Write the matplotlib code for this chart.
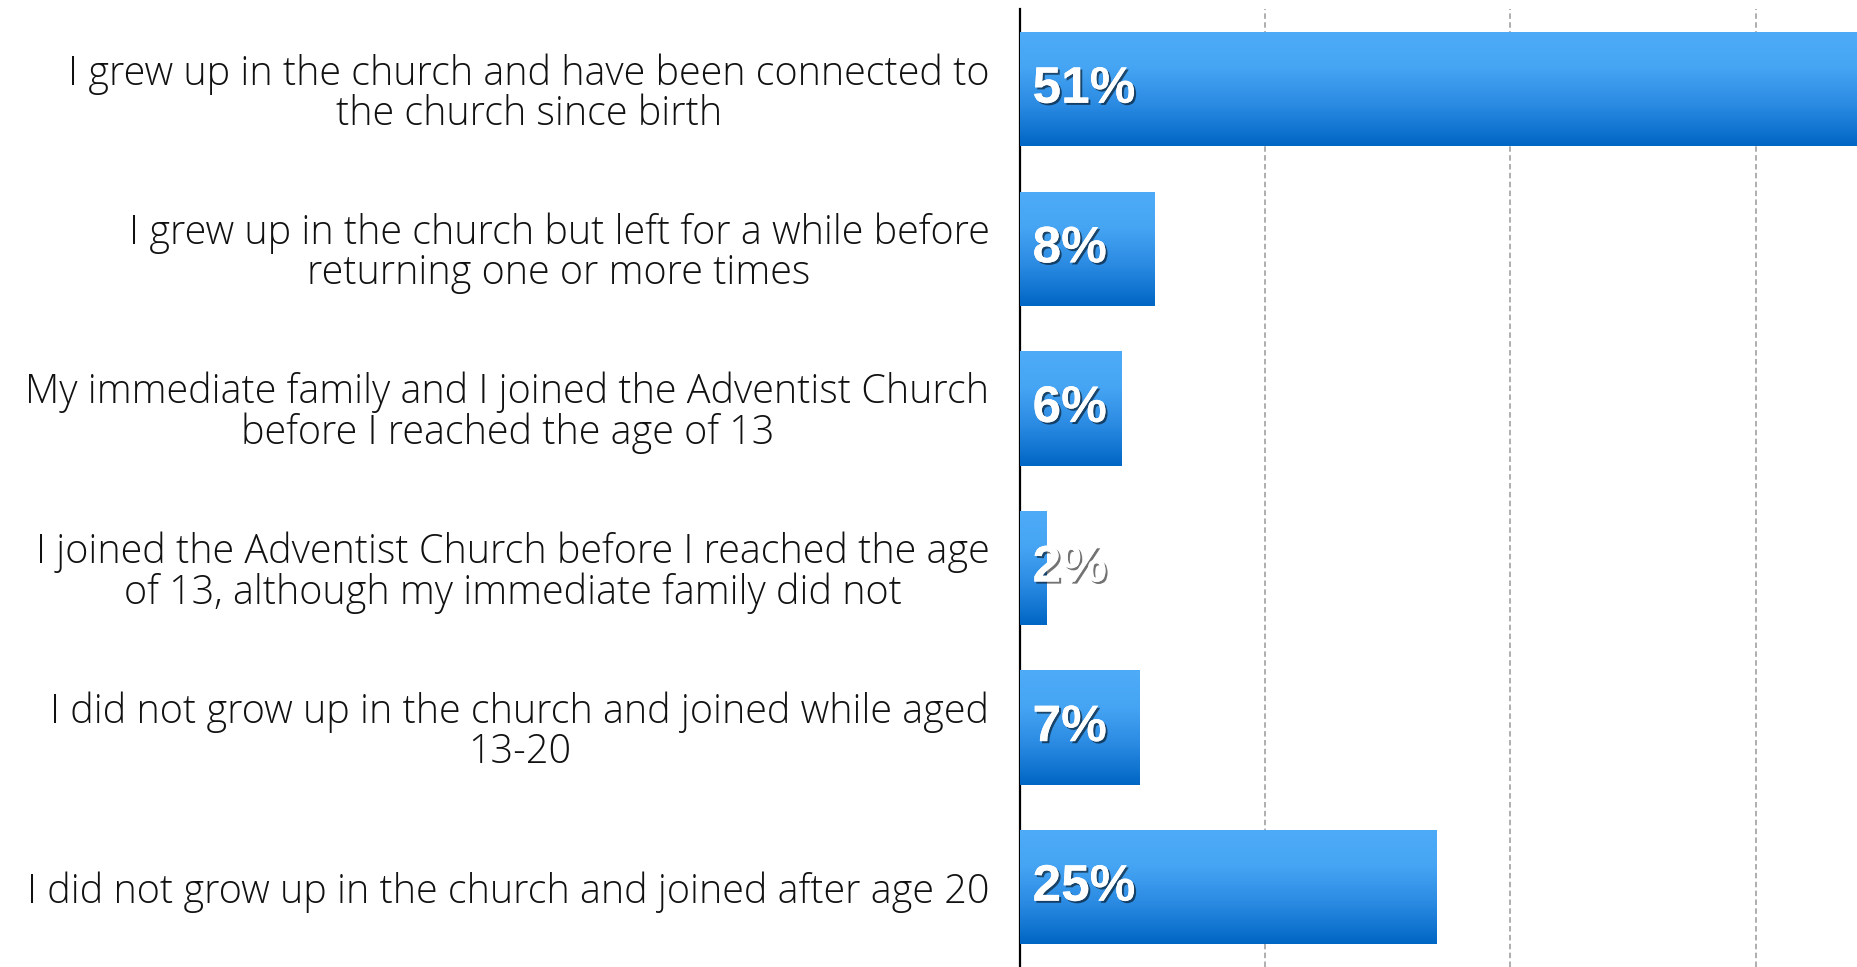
import matplotlib
matplotlib.use("Agg")
import matplotlib.pyplot as plt
import numpy as np
from matplotlib import patheffects
from matplotlib.colors import LinearSegmentedColormap

categories = [
    "I grew up in the church and have been connected to\nthe church since birth",
    "I grew up in the church but left for a while before\nreturning one or more times",
    "My immediate family and I joined the Adventist Church\nbefore I reached the age of 13",
    "I joined the Adventist Church before I reached the age\nof 13, although my immediate family did not",
    "I did not grow up in the church and joined while aged\n13-20",
    "I did not grow up in the church and joined after age 20",
]
values = [51.3, 8.2, 6.2, 1.6, 7.3, 25.5]
value_labels = ["51%", "8%", "6%", "2%", "7%", "25%"]
grid_ticks = [15, 30, 45]

fig = plt.figure(figsize=(18.57, 9.67), dpi=100)
ax = fig.add_axes([0.5493, 0.0, 0.4507, 0.9902])

y = np.arange(len(categories))
bars = ax.barh(y, values, height=0.717, color="none", zorder=3)

# vertical gradient fill for each bar (light at top, dark at bottom)
grad_cmap = LinearSegmentedColormap.from_list(
    "bar_grad", [(0.0, "#4dabf8"), (0.3, "#47a6f4"), (0.65, "#2a8ae2"), (1.0, "#0066c4")])
gradient = np.linspace(0, 1, 256).reshape(-1, 1)
for bar in bars:
    x0, y0 = bar.get_x(), bar.get_y()
    w, h = bar.get_width(), bar.get_height()
    # y axis is inverted, so y0 is the visual top of the bar
    im = ax.imshow(gradient, cmap=grad_cmap, aspect="auto", origin="lower",
                   extent=[x0, x0 + w, y0, y0 + h], zorder=3)
    im.set_clip_path(bar)

shadow = [patheffects.withSimplePatchShadow(offset=(1.5, -1.5), shadow_rgbFace="black", alpha=0.55),
          patheffects.Normal()]
for yi, txt in zip(y, value_labels):
    ax.annotate(txt, xy=(0, yi), xytext=(9, 0), textcoords="offset points",
                ha="left", va="center", fontsize=37, fontweight="bold",
                family="Liberation Sans", color="white", zorder=5,
                path_effects=shadow)

ax.set_xlim(0, 51.2)
ax.set_ylim(len(categories) - 0.5, -0.5)

ax.set_xticks(grid_ticks)
ax.xaxis.grid(True, color="#999999", linestyle=(0, (3.6, 2.2)), linewidth=1.1, zorder=1)
ax.set_axisbelow(True)
ax.tick_params(axis="x", length=0, labelbottom=False)

ax.set_yticks(y)
ax.set_yticklabels(categories)
ax.tick_params(axis="y", length=0, pad=22)
for lbl in ax.get_yticklabels():
    lbl.set_fontsize(28.5)
    lbl.set_fontfamily("Open Sans")
    lbl.set_fontweight("light")
    lbl.set_multialignment("center")
    lbl.set_linespacing(0.98)
    lbl.set_color("#111111")

for side in ["top", "right", "bottom"]:
    ax.spines[side].set_visible(False)
ax.spines["left"].set_linewidth(1.6)
ax.spines["left"].set_color("black")

fig.savefig("out.png", dpi=100)
